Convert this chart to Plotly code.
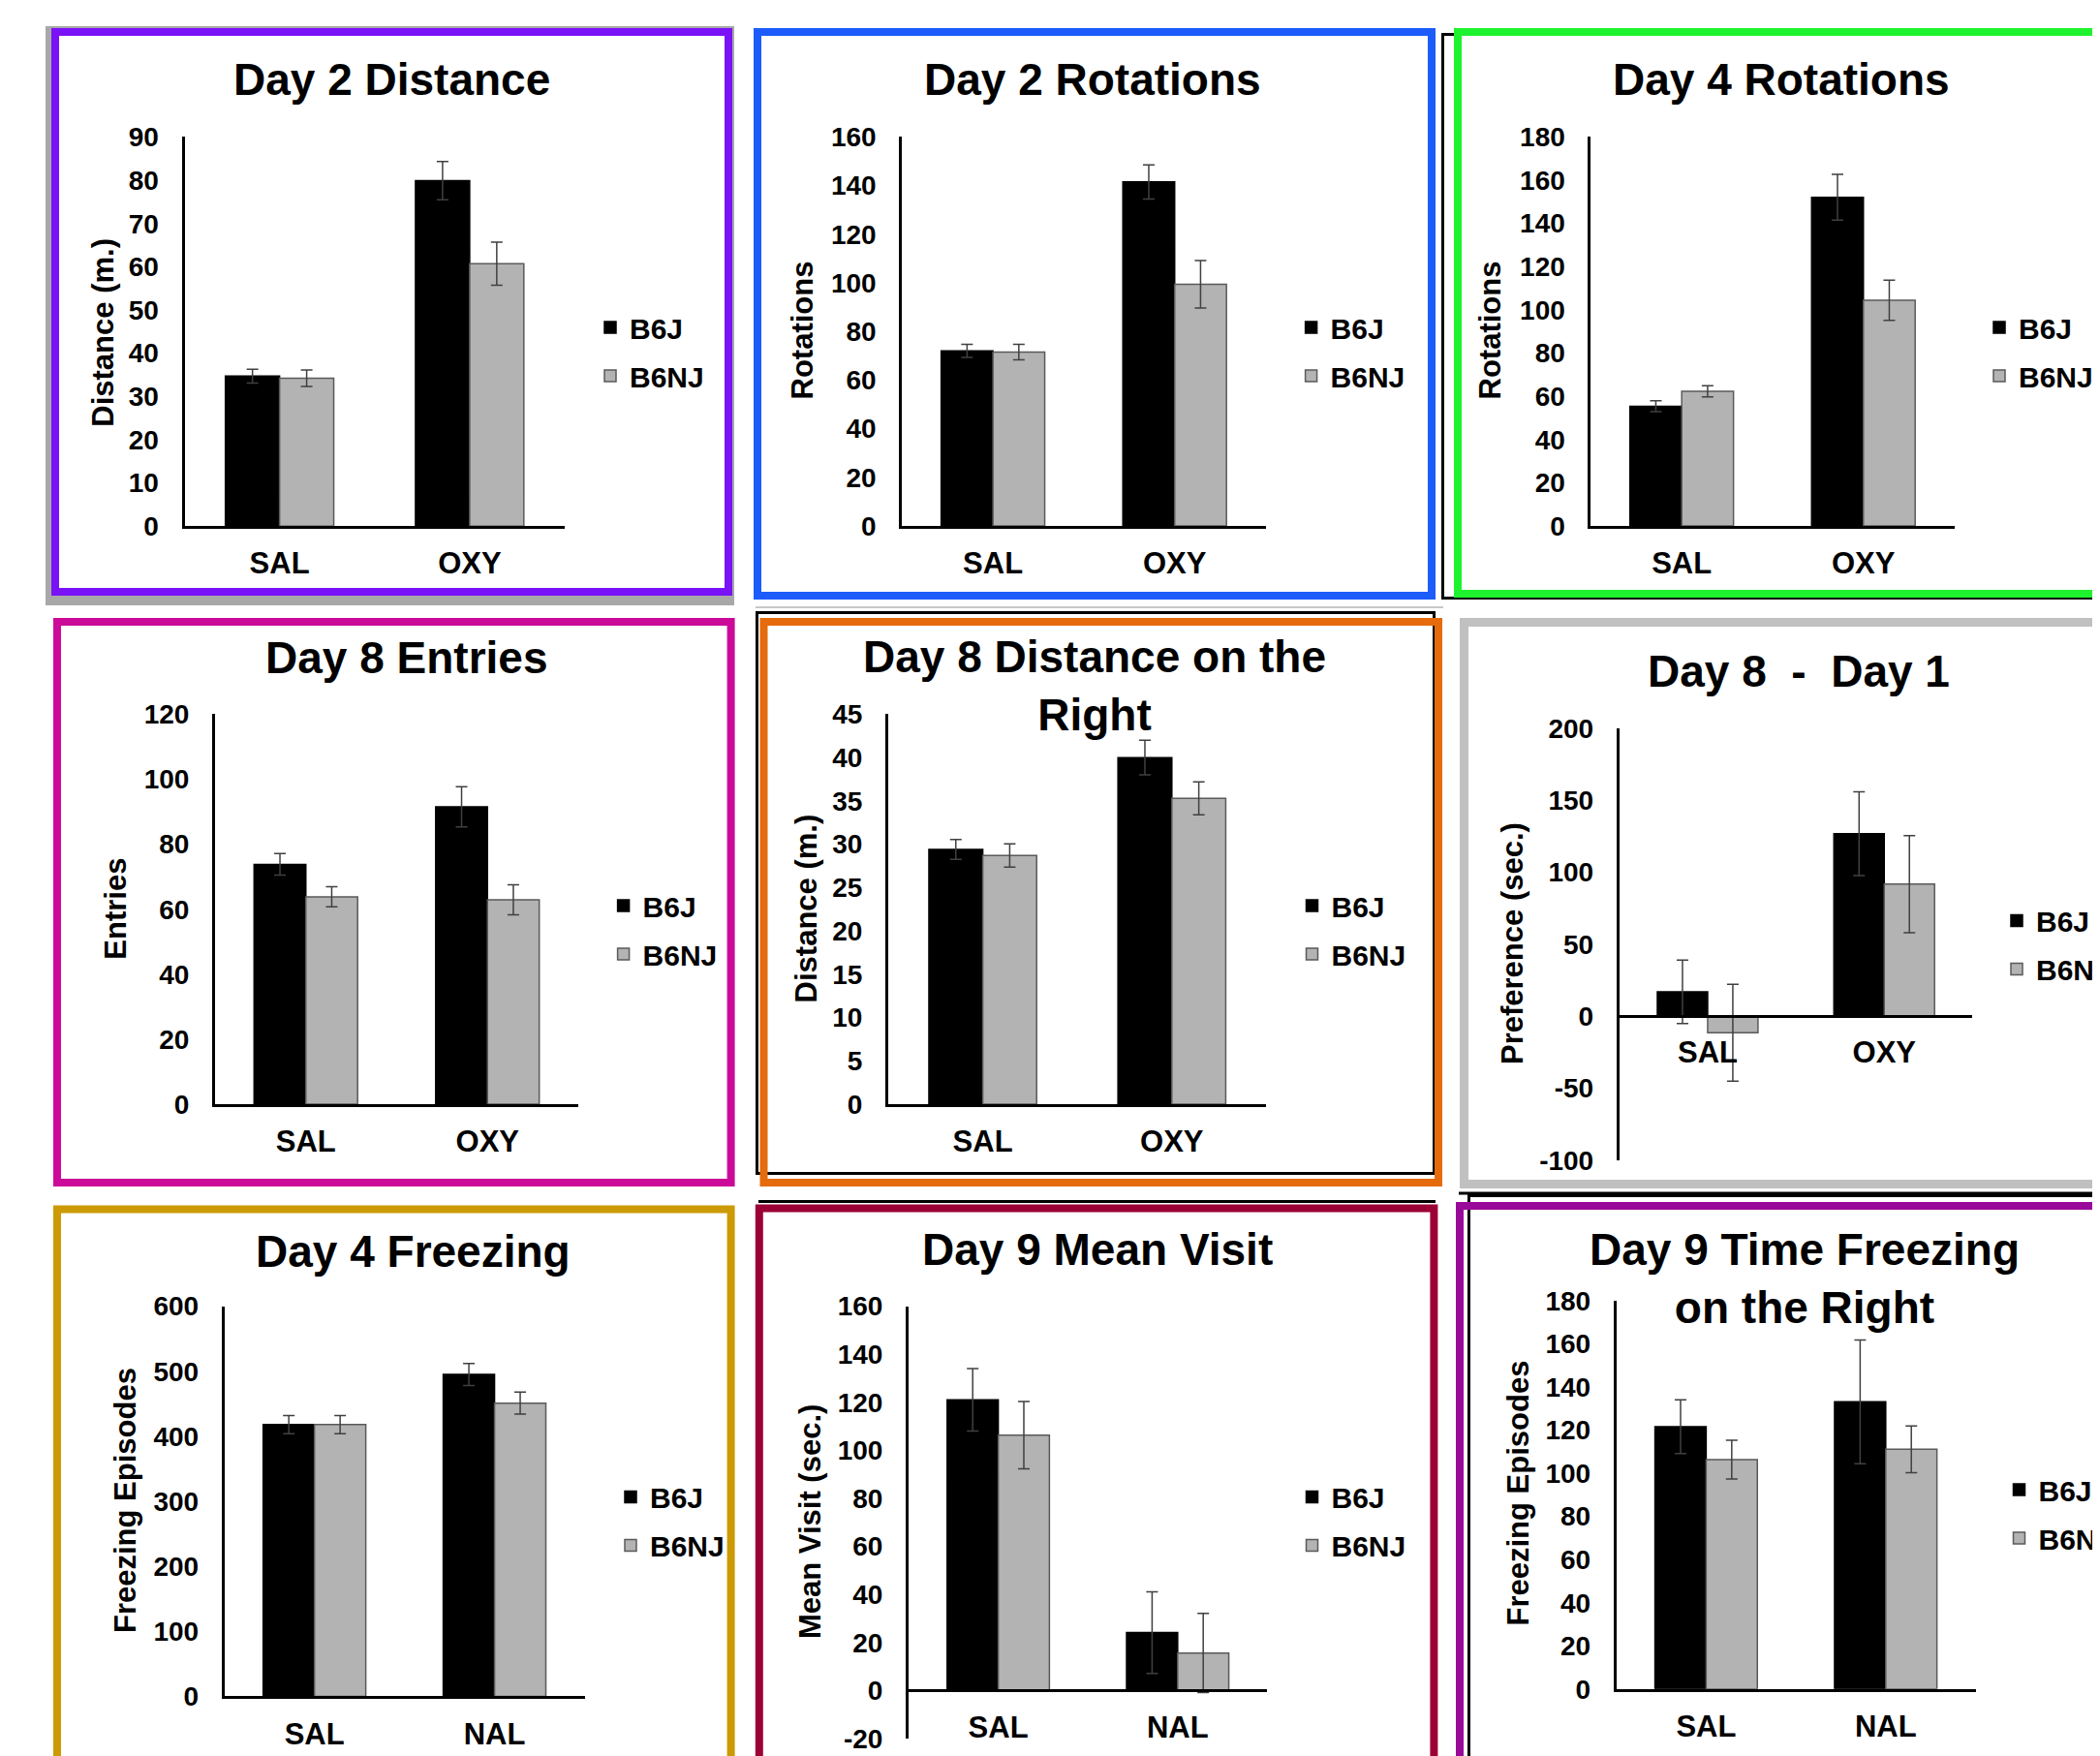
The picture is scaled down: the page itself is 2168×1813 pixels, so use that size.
import plotly.graph_objects as go

W, H = 2168, 1813
OFF = 8  # page body margin of the html page
FONT = "Liberation Sans, Arial, sans-serif"

# ---------------- data ----------------
titles = ["Day 2 Distance", "Day 2 Rotations", "Day 4 Rotations",
          "Day 8 Entries", "Day 8 Distance on the<br>Right", "Day 8  -  Day 1",
          "Day 4 Freezing", "Day 9 Mean Visit", "Day 9 Time Freezing<br>on the Right"]
y_titles = ["Distance (m.)", "Rotations", "Rotations",
            "Entries", "Distance (m.)", "Preference (sec.)",
            "Freezing Episodes", "Mean Visit (sec.)", "Freezing Episodes"]
categories = [["SAL", "OXY"]] * 6 + [["SAL", "NAL"]] * 3
series_names = ["B6J", "B6NJ"]

b6j_means = [[34.7, 79.9], [72.0, 141.5], [55.4, 152.1],
             [73.8, 91.5], [29.4, 40.0], [17.0, 126.7],
             [418, 495], [121.0, 24.1], [121.6, 133.1]]
b6j_errs = [[1.6, 4.4], [2.7, 7.0], [2.5, 10.6],
            [3.3, 6.2], [1.15, 2.0], [22.0, 29.0],
            [14, 17], [13.0, 17.0], [12.5, 28.7]]
b6nj_means = [[34.2, 60.7], [71.5, 99.4], [62.3, 104.4],
              [63.8, 62.9], [28.7, 35.3], [-11.4, 91.7],
              [418, 451], [106.3, 15.6], [106.3, 111.1]]
b6nj_errs = [[1.9, 5.0], [3.2, 9.8], [2.6, 9.3],
             [3.1, 4.6], [1.35, 1.9], [33.6, 33.7],
             [14, 17], [14.0, 16.5], [9.0, 10.8]]

y_ranges = [[0, 90], [0, 160], [0, 180],
            [0, 120], [0, 45], [-100, 200],
            [0, 600], [-20, 160], [0, 180]]
y_steps = [10, 20, 20, 20, 5, 50, 100, 20, 20]

# ---------------- layout (page pixels) ----------------
plot_x0 = [190.5, 931.3, 1642.4, 222.0, 917.0, 1671.8, 231.7, 938.0, 1668.7]
plot_x1 = [583.0, 1306.5, 2017.5, 597.0, 1307.4, 2036.4, 603.5, 1308.4, 2039.5]
plot_ytop = [141.4, 141.4, 141.4, 737.4, 737.4, 751.7, 1348.6, 1348.6, 1342.9]
plot_ybot = [543.2, 543.0, 543.0, 1140.0, 1140.0, 1198.0, 1751.4, 1794.9, 1743.8]
title_pos = [(404.7, 82), (1128, 82), (1839, 82),
             (419, 679), (1130.4, 708), (1857, 693),
             (426.5, 1292), (1132.8, 1290), (1863, 1320)]
ytitle_pos = [(105.7, 343), (828, 341.5), (1538, 341.5),
              (118.7, 938), (832.4, 938), (1561, 974),
              (129, 1549), (836, 1571), (1566.5, 1542)]
legend_pos = [(631, 363), (1354.6, 363), (2065, 363),
              (644.6, 960), (1355.5, 960), (2083, 975.5),
              (652, 1570.5), (1355.5, 1570.5), (2085.5, 1563)]


def px(x):
    return (x - OFF) / W


def py(y):
    return 1 - (y - OFF) / H


fig = go.Figure()
layout = dict(
    width=W, height=H, margin=dict(l=0, r=0, t=0, b=0, pad=0, autoexpand=False),
    paper_bgcolor="white", plot_bgcolor="rgba(0,0,0,0)",
    barmode="group", bargap=0.43, bargroupgap=0,
    font=dict(family=FONT, color="black"),
    annotations=[], shapes=[],
)

for i in range(9):
    sfx = "" if i == 0 else str(i + 1)
    xa, ya = "x" + sfx, "y" + sfx
    leg = "legend" + sfx
    ymin, ymax = y_ranges[i]
    for s, (means, errs, col, lcol) in enumerate([
            (b6j_means, b6j_errs, "#000000", "#000000"),
            (b6nj_means, b6nj_errs, "#B3B3B3", "#5A5A5A")]):
        fig.add_trace(go.Bar(
            x=categories[i], y=means[i], name=series_names[s],
            marker=dict(color=col, line=dict(color=lcol, width=1.5)),
            error_y=dict(type="data", array=errs[i], visible=True,
                         color="#404040", thickness=1.5, width=6),
            xaxis=xa, yaxis=ya, legend=leg, legendgroup=f"p{i}s{s}",
            hoverinfo="skip",
        ))
    # axes
    zero_px = plot_ytop[i] + (ymax - 0) / (ymax - ymin) * (plot_ybot[i] - plot_ytop[i])
    xaxis = dict(
        domain=[px(plot_x0[i]), px(plot_x1[i])],
        type="category", categoryorder="array", categoryarray=categories[i],
        showline=True, linecolor="black", linewidth=3,
        ticks="", showgrid=False, zeroline=False, fixedrange=True,
        automargin=False,
        tickfont=dict(family=FONT, size=31, color="black", weight="bold"),
        ticklabelstandoff=9,
    )
    if ymin < 0:
        xaxis.update(anchor="free", position=py(zero_px))
    else:
        xaxis.update(anchor=ya)
    ticks = list(range(ymin, ymax + 1, y_steps[i]))
    yaxis = dict(
        domain=[py(plot_ybot[i]), py(plot_ytop[i])],
        range=[ymin, ymax], anchor=xa,
        tickmode="array", tickvals=ticks, ticktext=[str(t) for t in ticks],
        showline=True, linecolor="black", linewidth=3,
        ticks="", showgrid=False, zeroline=False, fixedrange=True,
        automargin=False,
        tickfont=dict(family=FONT, size=28, color="black", weight="bold"),
        ticklabelstandoff=18,
    )
    layout["xaxis" + sfx] = xaxis
    layout["yaxis" + sfx] = yaxis
    # legend
    lx, ly = legend_pos[i]
    layout[leg] = dict(
        x=px(lx - 21), y=py(ly), xanchor="left", yanchor="middle",
        font=dict(family=FONT, size=30, color="black", weight="bold"),
        bgcolor="rgba(0,0,0,0)", borderwidth=0, tracegroupgap=8,
        itemclick=False, itemdoubleclick=False,
    )
    # titles
    tx, ty = title_pos[i]
    layout["annotations"].append(dict(
        text=titles[i], x=px(tx), y=py(ty), xref="paper", yref="paper",
        xanchor="center", yanchor="middle", showarrow=False,
        font=dict(family=FONT, size=46, color="black", weight="bold")))
    ax_, ay_ = ytitle_pos[i]
    layout["annotations"].append(dict(
        text=y_titles[i], x=px(ax_), y=py(ay_), xref="paper", yref="paper",
        xanchor="center", yanchor="middle", showarrow=False, textangle=-90,
        font=dict(family=FONT, size=31, color="black", weight="bold")))


def frame(x0, y0, x1, y1, color, t, fill="rgba(0,0,0,0)"):
    return dict(type="rect", xref="paper", yref="paper", layer="below",
                x0=px(x0 + t / 2), x1=px(x1 - t / 2),
                y0=py(y0 + t / 2), y1=py(y1 - t / 2),
                line=dict(color=color, width=t), fillcolor=fill)


def hline(x0, x1, y, color, t):
    return dict(type="line", xref="paper", yref="paper", layer="below",
                x0=px(x0), x1=px(x1), y0=py(y), y1=py(y),
                line=dict(color=color, width=t))


shapes = [
    dict(type="rect", xref="paper", yref="paper", layer="below",
         x0=px(47), x1=px(758), y0=py(27), y1=py(625),
         line=dict(width=0), fillcolor="#A8A8A8"),
    frame(53, 29, 756, 615, "#7A12F7", 8, "white"),
    frame(778, 29, 1482, 619, "#1C5CFA", 8),
    frame(1488, 34, 2200, 619, "#000000", 3),
    frame(1501, 29, 2200, 617, "#1EF22E", 8),
    hline(780, 1490, 627, "#C8C8C8", 2),
    frame(55, 638, 758.6, 1225, "#CC0A99", 8),
    frame(780, 631, 1482, 1213, "#000000", 3),
    frame(784.5, 638, 1489, 1225, "#E56B0C", 8),
    frame(1507, 638, 2200, 1227, "#C0C0C0", 9),
    hline(1506, 2200, 1232, "#000000", 3),
    frame(55, 1244.6, 758.6, 1900, "#CC9A05", 8),
    hline(783, 1482, 1240.5, "#000000", 3),
    frame(779.8, 1243.4, 1484.4, 1900, "#9B0036", 8),
    frame(1515, 1233, 2200, 1900, "#000000", 3),
    frame(1503, 1241, 2200, 1900, "#9A0A9A", 8),
]
layout["shapes"] = shapes

fig.update_layout(**layout)
fig.write_html("out.html")
